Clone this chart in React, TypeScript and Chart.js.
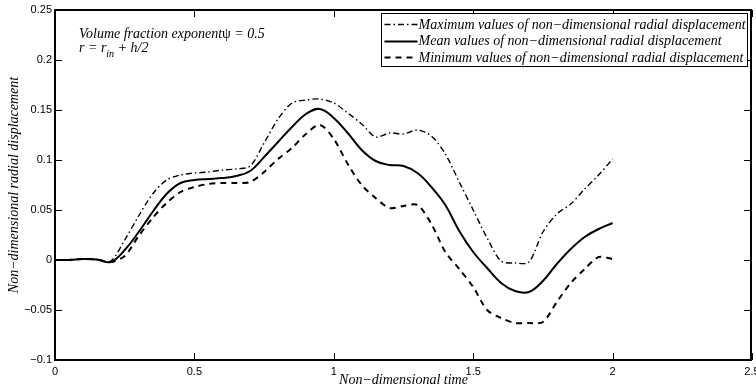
import { useEffect, useRef } from "react";
import { Chart, registerables } from "chart.js";

Chart.register(...registerables);

// Non-dimensional time samples
const time = [
  0, 0.05, 0.1, 0.15, 0.2, 0.25, 0.3, 0.35, 0.4, 0.45, 0.5, 0.55, 0.6, 0.65, 0.7, 0.75, 0.8, 0.85, 0.9, 0.95,
  1, 1.05, 1.1, 1.15, 1.2, 1.25, 1.3, 1.35, 1.4, 1.45, 1.5, 1.55, 1.6, 1.65, 1.7, 1.75, 1.8, 1.85, 1.9, 1.95, 2,
];

// Radial displacement histories (non-dimensional)
const maxDisp = [
  0, 0, 0.001, 0.0005, -0.001, 0.02, 0.044, 0.066, 0.08, 0.085, 0.087, 0.088, 0.09, 0.091, 0.094, 0.117, 0.141,
  0.157, 0.16, 0.161, 0.157, 0.147, 0.136, 0.123, 0.127, 0.126, 0.13, 0.124, 0.106, 0.078, 0.05, 0.022, -0.001,
  -0.003, -0.002, 0.028, 0.046, 0.056, 0.071, 0.085, 0.101,
];
const meanDisp = [
  0, 0, 0.001, 0.0005, -0.002, 0.01, 0.028, 0.048, 0.066, 0.077, 0.08, 0.081, 0.082, 0.084, 0.089, 0.103, 0.118,
  0.133, 0.146, 0.151, 0.142, 0.127, 0.11, 0.099, 0.095, 0.094, 0.087, 0.073, 0.055, 0.029, 0.008, -0.008, -0.023,
  -0.031, -0.032, -0.021, -0.004, 0.011, 0.023, 0.031, 0.037,
];
const minDisp = [
  0, 0, 0.001, 0.0005, -0.002, 0.004, 0.024, 0.042, 0.057, 0.068, 0.073, 0.076, 0.077, 0.077, 0.078, 0.088, 0.101,
  0.112, 0.126, 0.135, 0.121, 0.096, 0.075, 0.062, 0.052, 0.054, 0.055, 0.036, 0.008, -0.009, -0.027, -0.05, -0.058,
  -0.063, -0.063, -0.062, -0.042, -0.023, -0.009, 0.003, 0.001,
];

const seriesLabels = [
  "Maximum values of non\u2212dimensional radial displacement",
  "Mean values of non\u2212dimensional radial displacement",
  "Minimum values of non\u2212dimensional radial displacement",
];

const xTitle = "Non\u2212dimensional time";
const yTitle = "Non\u2212dimensional radial displacement";
const noteLine1 = ["Volume fraction exponent", "\u03c8", " = 0.5"];
const noteLine2 = ["r = r", "in", " + h/2"];

const SERIF = "'Liberation Serif', 'Times New Roman', serif";
const SANS = "'Liberation Sans', Arial, Helvetica, sans-serif";

const fmt = (v: number) => {
  const s = String(parseFloat(Number(v).toFixed(3)));
  return s.replace("-", "\u2212");
};

// Box frame, inward tick marks, legend and the annotation text
const decorPlugin = {
  id: "decor",
  afterDraw(chart: any) {
    const { ctx, chartArea: a, scales } = chart;
    const L = Math.round(a.left);
    const R = Math.round(a.right) - 1;
    const T = Math.round(a.top);
    const B = Math.round(a.bottom);
    ctx.save();
    ctx.globalAlpha = 1;
    ctx.fillStyle = "#000";

    // axis box drawn as filled bars so it stays crisp
    const w = 2;
    ctx.fillRect(L - 1, T - 1, R - L + 2, w);
    ctx.fillRect(L - 1, B - 1, R - L + 2, w);
    ctx.fillRect(L - 1, T - 1, w, B - T + 2);
    ctx.fillRect(R - 1, T - 1, w, B - T + 2);

    const tl = 7;
    scales.x.ticks.forEach((t: any) => {
      const px = Math.round(scales.x.getPixelForValue(t.value));
      ctx.fillRect(px, B - tl, 1, tl);
      ctx.fillRect(px, T, 1, tl);
    });
    scales.y.ticks.forEach((t: any) => {
      const py = Math.round(scales.y.getPixelForValue(t.value));
      ctx.fillRect(L, py, tl, 1);
      ctx.fillRect(R - tl, py, tl, 1);
    });

    // legend
    ctx.font = `italic 14px ${SERIF}`;
    const ds = chart.data.datasets;
    let textW = 0;
    ds.forEach((d: any) => (textW = Math.max(textW, ctx.measureText(d.label).width)));
    const sample = 33;
    const boxR = Math.round(a.right) - 4.5;
    const boxT = Math.round(a.top) + 3.5;
    const boxW = Math.round(textW + sample + 6);
    const rowH = 16.5;
    const boxH = Math.round(rowH * ds.length + 3);
    const boxL = boxR - boxW;
    ctx.fillStyle = "#fff";
    ctx.fillRect(boxL, boxT, boxW, boxH);
    ctx.strokeStyle = "#000";
    ctx.lineWidth = 1;
    ctx.setLineDash([]);
    ctx.strokeRect(boxL, boxT, boxW, boxH);
    ctx.textBaseline = "middle";
    ctx.textAlign = "left";
    ctx.fillStyle = "#000";
    ds.forEach((d: any, i: number) => {
      const cy = boxT + 10.5 + i * rowH;
      ctx.save();
      ctx.lineWidth = d.borderWidth;
      ctx.setLineDash(d.borderDash || []);
      ctx.beginPath();
      ctx.moveTo(boxL + 3, Math.round(cy) + 0.5);
      ctx.lineTo(boxL + 3 + sample, Math.round(cy) + 0.5);
      ctx.stroke();
      ctx.restore();
      ctx.fillText(d.label, boxL + sample + 4, cy + 1);
    });

    // annotation
    ctx.textBaseline = "alphabetic";
    let x = a.left + 24;
    const y1 = a.top + 28;
    ctx.font = `italic 14px ${SERIF}`;
    ctx.fillText(noteLine1[0], x, y1);
    x += ctx.measureText(noteLine1[0]).width;
    ctx.font = `14px ${SERIF}`;
    ctx.fillText(noteLine1[1], x, y1);
    x += ctx.measureText(noteLine1[1]).width;
    ctx.font = `italic 14px ${SERIF}`;
    ctx.fillText(noteLine1[2], x, y1);

    x = a.left + 24;
    const y2 = a.top + 42;
    ctx.fillText(noteLine2[0], x, y2);
    x += ctx.measureText(noteLine2[0]).width;
    ctx.font = `italic 10px ${SERIF}`;
    ctx.fillText(noteLine2[1], x, y2 + 5);
    x += ctx.measureText(noteLine2[1]).width;
    ctx.font = `italic 14px ${SERIF}`;
    ctx.fillText(noteLine2[2], x, y2);
    ctx.restore();
  },
};

export default function App() {
  const canvasRef = useRef<HTMLCanvasElement | null>(null);

  useEffect(() => {
    if (!canvasRef.current) return;
    const mk = (vals: number[]) => time.map((t, i) => ({ x: t, y: vals[i] }));
    const chart = new Chart(canvasRef.current, {
      type: "line",
      data: {
        datasets: [
          {
            label: seriesLabels[0],
            data: mk(maxDisp),
            borderColor: "#000",
            borderWidth: 1.4,
            borderDash: [6, 3, 1.5, 3],
            pointRadius: 0,
            tension: 0.3,
          },
          {
            label: seriesLabels[1],
            data: mk(meanDisp),
            borderColor: "#000",
            borderWidth: 2,
            pointRadius: 0,
            tension: 0.4,
          },
          {
            label: seriesLabels[2],
            data: mk(minDisp),
            borderColor: "#000",
            borderWidth: 2,
            borderDash: [6, 5],
            pointRadius: 0,
            tension: 0.3,
          },
        ],
      },
      options: {
        responsive: false,
        animation: false,
        layout: { padding: { left: 0, right: 4, top: 10, bottom: 0 } },
        plugins: { legend: { display: false }, tooltip: { enabled: false } },
        scales: {
          x: {
            type: "linear",
            min: 0,
            max: 2.5,
            grid: { display: false, drawTicks: false },
            border: { display: false },
            ticks: {
              stepSize: 0.5,
              padding: 5,
              color: "#000",
              font: { family: SANS, size: 11 },
              callback: (v: any) => fmt(v),
              maxRotation: 0,
            },
            title: {
              display: true,
              text: xTitle,
              color: "#000",
              font: { family: SERIF, size: 14, style: "italic" },
              padding: { top: 0, bottom: 1 },
            },
            afterFit: (s: any) => {
              s.height = 30;
              s.paddingLeft = 0;
              s.paddingRight = 0;
            },
          },
          y: {
            type: "linear",
            min: -0.1,
            max: 0.25,
            grid: { display: false, drawTicks: false },
            border: { display: false },
            ticks: {
              stepSize: 0.05,
              padding: 3,
              color: "#000",
              font: { family: SANS, size: 11 },
              callback: (v: any) => fmt(v),
            },
            title: {
              display: true,
              text: yTitle,
              color: "#000",
              font: { family: SERIF, size: 14, style: "italic" },
              padding: { top: 6, bottom: 0 },
            },
            afterFit: (s: any) => {
              s.width = 55;
              s.paddingTop = 0;
              s.paddingBottom = 0;
            },
          },
        },
      },
      plugins: [decorPlugin],
    });
    return () => chart.destroy();
  }, []);

  return (
    <div style={{ position: "absolute", left: 0, top: 0, width: 756, height: 390, overflow: "hidden", background: "#fff" }}>
      <canvas ref={canvasRef} width={756} height={390} style={{ display: "block" }} />
    </div>
  );
}
